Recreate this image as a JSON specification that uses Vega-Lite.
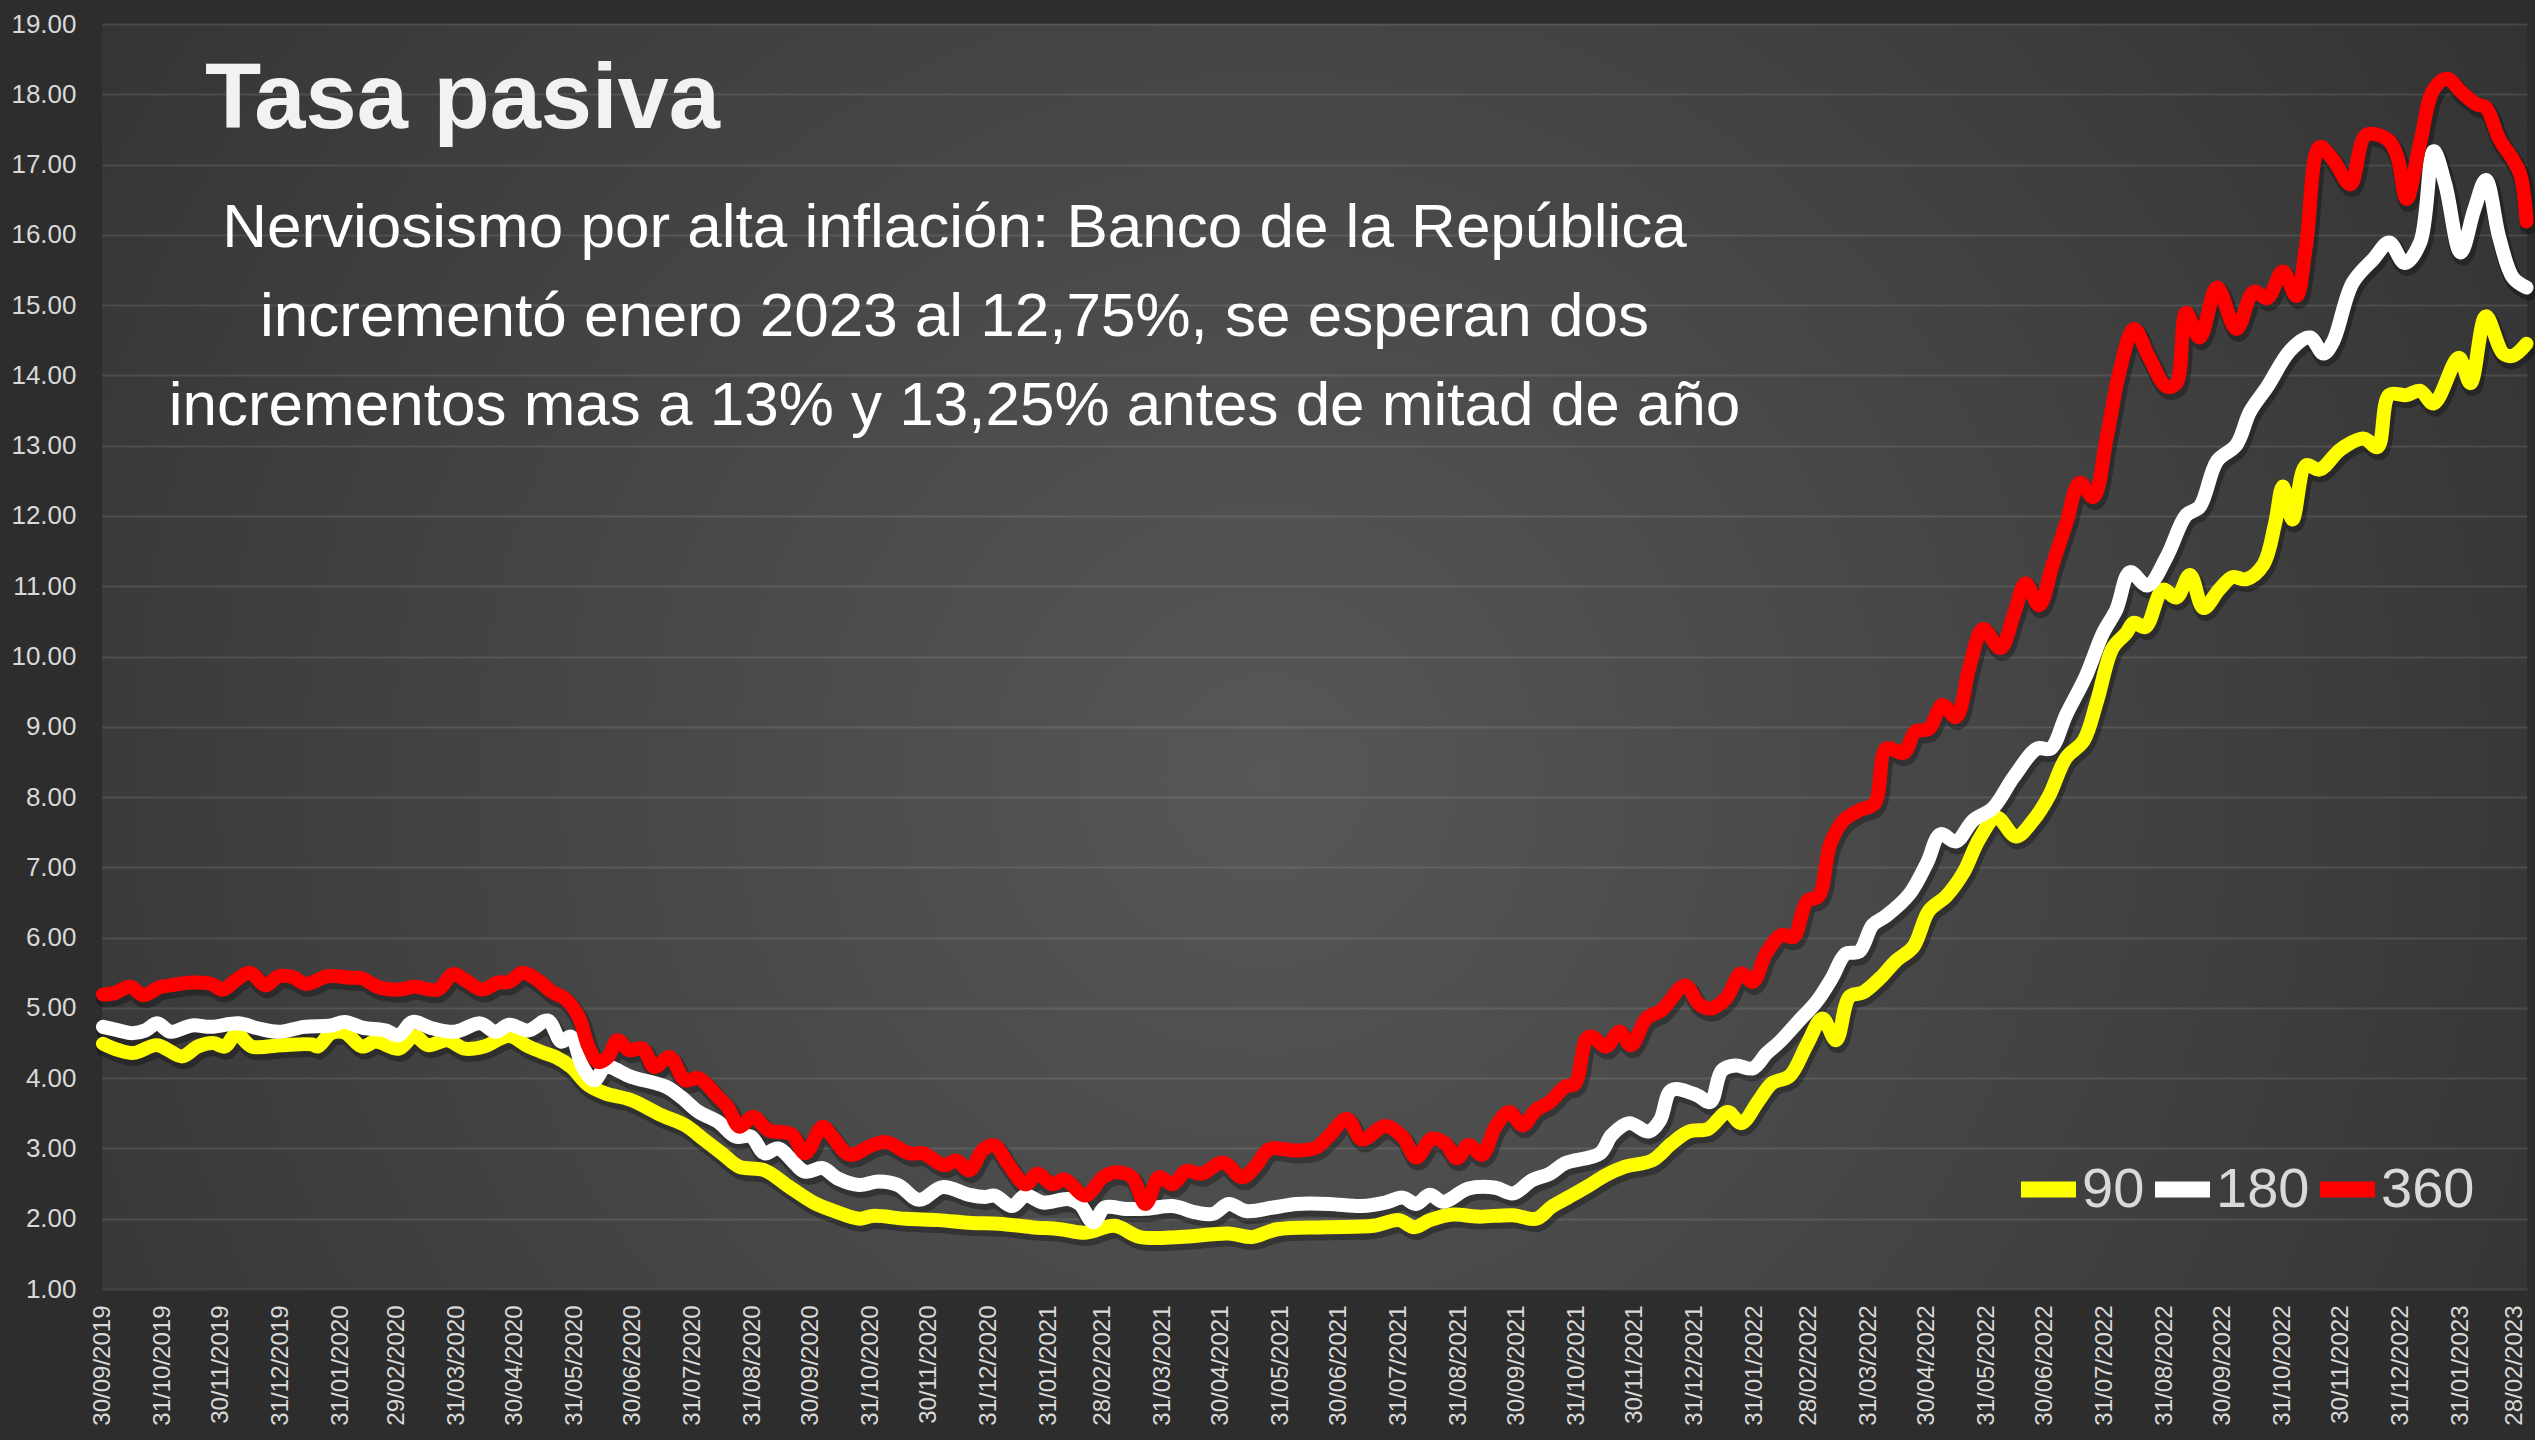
{
"$schema": "https://vega.github.io/schema/vega-lite/v6.json",
"width": 2425,
"height": 1265,
"autosize": {"type": "none"},
"padding": {"left": 102, "top": 24, "right": 8, "bottom": 151},
"background": "#2d2d2d",
"config": {
  "view": {"stroke": null, "fill": {"gradient": "radial", "x1": 0.48, "y1": 0.55, "r1": 0, "x2": 0.48, "y2": 0.55, "r2": 0.75, "stops": [{"offset": 0, "color": "#575757"}, {"offset": 1, "color": "#2a2a2a"}]}},
  "font": "Liberation Sans"
},
"title": {"text": "Tasa pasiva", "anchor": "start", "frame": "group", "orient": "top", "offset": -136, "dx": 103, "font": "Liberation Sans", "fontSize": 92, "fontWeight": "bold", "color": "#f2f2f2"},
"data": {"values": [
{"plazo":"90","fecha":"2019-09-30","tasa":4.49},
{"plazo":"90","fecha":"2019-10-08","tasa":4.40},
{"plazo":"90","fecha":"2019-10-16","tasa":4.36},
{"plazo":"90","fecha":"2019-10-28","tasa":4.47},
{"plazo":"90","fecha":"2019-11-10","tasa":4.31},
{"plazo":"90","fecha":"2019-11-18","tasa":4.45},
{"plazo":"90","fecha":"2019-11-26","tasa":4.50},
{"plazo":"90","fecha":"2019-12-02","tasa":4.45},
{"plazo":"90","fecha":"2019-12-08","tasa":4.63},
{"plazo":"90","fecha":"2019-12-16","tasa":4.45},
{"plazo":"90","fecha":"2019-12-31","tasa":4.47},
{"plazo":"90","fecha":"2020-01-16","tasa":4.48},
{"plazo":"90","fecha":"2020-01-19","tasa":4.45},
{"plazo":"90","fecha":"2020-01-26","tasa":4.64},
{"plazo":"90","fecha":"2020-02-02","tasa":4.65},
{"plazo":"90","fecha":"2020-02-11","tasa":4.45},
{"plazo":"90","fecha":"2020-02-18","tasa":4.52},
{"plazo":"90","fecha":"2020-03-01","tasa":4.42},
{"plazo":"90","fecha":"2020-03-09","tasa":4.60},
{"plazo":"90","fecha":"2020-03-16","tasa":4.47},
{"plazo":"90","fecha":"2020-03-26","tasa":4.54},
{"plazo":"90","fecha":"2020-04-04","tasa":4.42},
{"plazo":"90","fecha":"2020-04-14","tasa":4.45},
{"plazo":"90","fecha":"2020-04-27","tasa":4.60},
{"plazo":"90","fecha":"2020-05-07","tasa":4.45},
{"plazo":"90","fecha":"2020-05-16","tasa":4.35},
{"plazo":"90","fecha":"2020-05-21","tasa":4.30},
{"plazo":"90","fecha":"2020-05-29","tasa":4.16},
{"plazo":"90","fecha":"2020-06-07","tasa":3.90},
{"plazo":"90","fecha":"2020-06-16","tasa":3.78},
{"plazo":"90","fecha":"2020-06-29","tasa":3.69},
{"plazo":"90","fecha":"2020-07-15","tasa":3.47},
{"plazo":"90","fecha":"2020-07-27","tasa":3.33},
{"plazo":"90","fecha":"2020-08-06","tasa":3.12},
{"plazo":"90","fecha":"2020-08-15","tasa":2.93},
{"plazo":"90","fecha":"2020-08-24","tasa":2.74},
{"plazo":"90","fecha":"2020-09-06","tasa":2.69},
{"plazo":"90","fecha":"2020-09-19","tasa":2.45},
{"plazo":"90","fecha":"2020-10-02","tasa":2.22},
{"plazo":"90","fecha":"2020-10-11","tasa":2.12},
{"plazo":"90","fecha":"2020-10-25","tasa":2.00},
{"plazo":"90","fecha":"2020-11-01","tasa":2.04},
{"plazo":"90","fecha":"2020-11-18","tasa":2.00},
{"plazo":"90","fecha":"2020-12-05","tasa":1.98},
{"plazo":"90","fecha":"2020-12-22","tasa":1.94},
{"plazo":"90","fecha":"2021-01-05","tasa":1.93},
{"plazo":"90","fecha":"2021-01-22","tasa":1.88},
{"plazo":"90","fecha":"2021-02-06","tasa":1.85},
{"plazo":"90","fecha":"2021-02-19","tasa":1.80},
{"plazo":"90","fecha":"2021-03-06","tasa":1.90},
{"plazo":"90","fecha":"2021-03-19","tasa":1.74},
{"plazo":"90","fecha":"2021-04-09","tasa":1.74},
{"plazo":"90","fecha":"2021-05-04","tasa":1.79},
{"plazo":"90","fecha":"2021-05-16","tasa":1.74},
{"plazo":"90","fecha":"2021-05-29","tasa":1.85},
{"plazo":"90","fecha":"2021-06-23","tasa":1.88},
{"plazo":"90","fecha":"2021-07-18","tasa":1.90},
{"plazo":"90","fecha":"2021-07-31","tasa":1.98},
{"plazo":"90","fecha":"2021-08-08","tasa":1.88},
{"plazo":"90","fecha":"2021-08-16","tasa":1.98},
{"plazo":"90","fecha":"2021-08-28","tasa":2.06},
{"plazo":"90","fecha":"2021-09-10","tasa":2.03},
{"plazo":"90","fecha":"2021-09-28","tasa":2.05},
{"plazo":"90","fecha":"2021-10-10","tasa":2.00},
{"plazo":"90","fecha":"2021-10-18","tasa":2.17},
{"plazo":"90","fecha":"2021-10-27","tasa":2.31},
{"plazo":"90","fecha":"2021-11-05","tasa":2.45},
{"plazo":"90","fecha":"2021-11-15","tasa":2.62},
{"plazo":"90","fecha":"2021-11-25","tasa":2.74},
{"plazo":"90","fecha":"2021-12-09","tasa":2.83},
{"plazo":"90","fecha":"2021-12-19","tasa":3.07},
{"plazo":"90","fecha":"2021-12-28","tasa":3.24},
{"plazo":"90","fecha":"2022-01-07","tasa":3.28},
{"plazo":"90","fecha":"2022-01-17","tasa":3.52},
{"plazo":"90","fecha":"2022-01-24","tasa":3.36},
{"plazo":"90","fecha":"2022-02-02","tasa":3.68},
{"plazo":"90","fecha":"2022-02-09","tasa":3.93},
{"plazo":"90","fecha":"2022-02-18","tasa":4.03},
{"plazo":"90","fecha":"2022-02-27","tasa":4.48},
{"plazo":"90","fecha":"2022-03-07","tasa":4.85},
{"plazo":"90","fecha":"2022-03-14","tasa":4.54},
{"plazo":"90","fecha":"2022-03-21","tasa":5.16},
{"plazo":"90","fecha":"2022-03-28","tasa":5.22},
{"plazo":"90","fecha":"2022-04-06","tasa":5.43},
{"plazo":"90","fecha":"2022-04-14","tasa":5.67},
{"plazo":"90","fecha":"2022-04-23","tasa":5.87},
{"plazo":"90","fecha":"2022-05-01","tasa":6.38},
{"plazo":"90","fecha":"2022-05-10","tasa":6.59},
{"plazo":"90","fecha":"2022-05-19","tasa":6.93},
{"plazo":"90","fecha":"2022-05-27","tasa":7.40},
{"plazo":"90","fecha":"2022-06-05","tasa":7.71},
{"plazo":"90","fecha":"2022-06-15","tasa":7.44},
{"plazo":"90","fecha":"2022-06-24","tasa":7.67},
{"plazo":"90","fecha":"2022-07-02","tasa":8.01},
{"plazo":"90","fecha":"2022-07-11","tasa":8.56},
{"plazo":"90","fecha":"2022-07-20","tasa":8.80},
{"plazo":"90","fecha":"2022-07-27","tasa":9.37},
{"plazo":"90","fecha":"2022-08-04","tasa":10.12},
{"plazo":"90","fecha":"2022-08-11","tasa":10.33},
{"plazo":"90","fecha":"2022-08-15","tasa":10.48},
{"plazo":"90","fecha":"2022-08-21","tasa":10.42},
{"plazo":"90","fecha":"2022-08-30","tasa":10.95},
{"plazo":"90","fecha":"2022-09-06","tasa":10.84},
{"plazo":"90","fecha":"2022-09-13","tasa":11.16},
{"plazo":"90","fecha":"2022-09-20","tasa":10.69},
{"plazo":"90","fecha":"2022-09-28","tasa":10.95},
{"plazo":"90","fecha":"2022-10-05","tasa":11.13},
{"plazo":"90","fecha":"2022-10-12","tasa":11.10},
{"plazo":"90","fecha":"2022-10-21","tasa":11.31},
{"plazo":"90","fecha":"2022-10-27","tasa":11.89},
{"plazo":"90","fecha":"2022-10-31","tasa":12.42},
{"plazo":"90","fecha":"2022-11-05","tasa":11.95},
{"plazo":"90","fecha":"2022-11-12","tasa":12.72},
{"plazo":"90","fecha":"2022-11-19","tasa":12.66},
{"plazo":"90","fecha":"2022-11-30","tasa":12.95},
{"plazo":"90","fecha":"2022-12-12","tasa":13.10},
{"plazo":"90","fecha":"2022-12-19","tasa":12.98},
{"plazo":"90","fecha":"2022-12-25","tasa":13.72},
{"plazo":"90","fecha":"2023-01-03","tasa":13.72},
{"plazo":"90","fecha":"2023-01-10","tasa":13.78},
{"plazo":"90","fecha":"2023-01-17","tasa":13.60},
{"plazo":"90","fecha":"2023-01-30","tasa":14.25},
{"plazo":"90","fecha":"2023-02-05","tasa":13.89},
{"plazo":"90","fecha":"2023-02-13","tasa":14.84},
{"plazo":"90","fecha":"2023-02-22","tasa":14.31},
{"plazo":"90","fecha":"2023-02-27","tasa":14.28},
{"plazo":"90","fecha":"2023-03-06","tasa":14.45},
{"plazo":"180","fecha":"2019-09-30","tasa":4.73},
{"plazo":"180","fecha":"2019-10-08","tasa":4.68},
{"plazo":"180","fecha":"2019-10-15","tasa":4.64},
{"plazo":"180","fecha":"2019-10-22","tasa":4.68},
{"plazo":"180","fecha":"2019-10-28","tasa":4.78},
{"plazo":"180","fecha":"2019-11-04","tasa":4.66},
{"plazo":"180","fecha":"2019-11-15","tasa":4.75},
{"plazo":"180","fecha":"2019-11-25","tasa":4.73},
{"plazo":"180","fecha":"2019-12-09","tasa":4.78},
{"plazo":"180","fecha":"2019-12-19","tasa":4.71},
{"plazo":"180","fecha":"2019-12-30","tasa":4.66},
{"plazo":"180","fecha":"2020-01-12","tasa":4.73},
{"plazo":"180","fecha":"2020-01-26","tasa":4.75},
{"plazo":"180","fecha":"2020-02-02","tasa":4.80},
{"plazo":"180","fecha":"2020-02-11","tasa":4.72},
{"plazo":"180","fecha":"2020-02-23","tasa":4.68},
{"plazo":"180","fecha":"2020-03-01","tasa":4.61},
{"plazo":"180","fecha":"2020-03-08","tasa":4.80},
{"plazo":"180","fecha":"2020-03-18","tasa":4.71},
{"plazo":"180","fecha":"2020-03-30","tasa":4.66},
{"plazo":"180","fecha":"2020-04-12","tasa":4.78},
{"plazo":"180","fecha":"2020-04-20","tasa":4.66},
{"plazo":"180","fecha":"2020-04-27","tasa":4.76},
{"plazo":"180","fecha":"2020-05-07","tasa":4.68},
{"plazo":"180","fecha":"2020-05-17","tasa":4.82},
{"plazo":"180","fecha":"2020-05-24","tasa":4.52},
{"plazo":"180","fecha":"2020-05-29","tasa":4.59},
{"plazo":"180","fecha":"2020-06-04","tasa":4.16},
{"plazo":"180","fecha":"2020-06-10","tasa":3.97},
{"plazo":"180","fecha":"2020-06-16","tasa":4.16},
{"plazo":"180","fecha":"2020-06-29","tasa":4.02},
{"plazo":"180","fecha":"2020-07-17","tasa":3.88},
{"plazo":"180","fecha":"2020-07-25","tasa":3.73},
{"plazo":"180","fecha":"2020-08-03","tasa":3.52},
{"plazo":"180","fecha":"2020-08-13","tasa":3.38},
{"plazo":"180","fecha":"2020-08-22","tasa":3.17},
{"plazo":"180","fecha":"2020-08-30","tasa":3.17},
{"plazo":"180","fecha":"2020-09-06","tasa":2.93},
{"plazo":"180","fecha":"2020-09-13","tasa":3.00},
{"plazo":"180","fecha":"2020-09-27","tasa":2.67},
{"plazo":"180","fecha":"2020-10-06","tasa":2.72},
{"plazo":"180","fecha":"2020-10-14","tasa":2.57},
{"plazo":"180","fecha":"2020-10-25","tasa":2.48},
{"plazo":"180","fecha":"2020-11-04","tasa":2.53},
{"plazo":"180","fecha":"2020-11-14","tasa":2.48},
{"plazo":"180","fecha":"2020-11-25","tasa":2.27},
{"plazo":"180","fecha":"2020-12-07","tasa":2.45},
{"plazo":"180","fecha":"2020-12-21","tasa":2.34},
{"plazo":"180","fecha":"2020-12-29","tasa":2.31},
{"plazo":"180","fecha":"2021-01-03","tasa":2.33},
{"plazo":"180","fecha":"2021-01-12","tasa":2.18},
{"plazo":"180","fecha":"2021-01-19","tasa":2.33},
{"plazo":"180","fecha":"2021-01-28","tasa":2.23},
{"plazo":"180","fecha":"2021-02-10","tasa":2.28},
{"plazo":"180","fecha":"2021-02-16","tasa":2.21},
{"plazo":"180","fecha":"2021-02-23","tasa":1.95},
{"plazo":"180","fecha":"2021-03-01","tasa":2.16},
{"plazo":"180","fecha":"2021-03-12","tasa":2.14},
{"plazo":"180","fecha":"2021-03-22","tasa":2.14},
{"plazo":"180","fecha":"2021-04-05","tasa":2.18},
{"plazo":"180","fecha":"2021-04-17","tasa":2.09},
{"plazo":"180","fecha":"2021-04-26","tasa":2.07},
{"plazo":"180","fecha":"2021-05-04","tasa":2.21},
{"plazo":"180","fecha":"2021-05-13","tasa":2.11},
{"plazo":"180","fecha":"2021-05-27","tasa":2.16},
{"plazo":"180","fecha":"2021-06-08","tasa":2.21},
{"plazo":"180","fecha":"2021-06-25","tasa":2.21},
{"plazo":"180","fecha":"2021-07-12","tasa":2.18},
{"plazo":"180","fecha":"2021-07-24","tasa":2.23},
{"plazo":"180","fecha":"2021-08-02","tasa":2.30},
{"plazo":"180","fecha":"2021-08-09","tasa":2.21},
{"plazo":"180","fecha":"2021-08-16","tasa":2.34},
{"plazo":"180","fecha":"2021-08-23","tasa":2.24},
{"plazo":"180","fecha":"2021-09-05","tasa":2.43},
{"plazo":"180","fecha":"2021-09-19","tasa":2.44},
{"plazo":"180","fecha":"2021-09-28","tasa":2.36},
{"plazo":"180","fecha":"2021-10-08","tasa":2.55},
{"plazo":"180","fecha":"2021-10-17","tasa":2.64},
{"plazo":"180","fecha":"2021-10-25","tasa":2.79},
{"plazo":"180","fecha":"2021-11-12","tasa":2.93},
{"plazo":"180","fecha":"2021-11-18","tasa":3.19},
{"plazo":"180","fecha":"2021-11-27","tasa":3.36},
{"plazo":"180","fecha":"2021-12-07","tasa":3.24},
{"plazo":"180","fecha":"2021-12-13","tasa":3.40},
{"plazo":"180","fecha":"2021-12-19","tasa":3.83},
{"plazo":"180","fecha":"2022-01-01","tasa":3.76},
{"plazo":"180","fecha":"2022-01-08","tasa":3.66},
{"plazo":"180","fecha":"2022-01-14","tasa":4.11},
{"plazo":"180","fecha":"2022-01-21","tasa":4.18},
{"plazo":"180","fecha":"2022-01-30","tasa":4.14},
{"plazo":"180","fecha":"2022-02-06","tasa":4.35},
{"plazo":"180","fecha":"2022-02-13","tasa":4.52},
{"plazo":"180","fecha":"2022-02-23","tasa":4.82},
{"plazo":"180","fecha":"2022-03-04","tasa":5.09},
{"plazo":"180","fecha":"2022-03-12","tasa":5.43},
{"plazo":"180","fecha":"2022-03-19","tasa":5.77},
{"plazo":"180","fecha":"2022-03-26","tasa":5.80},
{"plazo":"180","fecha":"2022-04-02","tasa":6.18},
{"plazo":"180","fecha":"2022-04-09","tasa":6.31},
{"plazo":"180","fecha":"2022-04-21","tasa":6.62},
{"plazo":"180","fecha":"2022-04-30","tasa":7.06},
{"plazo":"180","fecha":"2022-05-07","tasa":7.47},
{"plazo":"180","fecha":"2022-05-15","tasa":7.37},
{"plazo":"180","fecha":"2022-05-24","tasa":7.67},
{"plazo":"180","fecha":"2022-06-03","tasa":7.84},
{"plazo":"180","fecha":"2022-06-14","tasa":8.29},
{"plazo":"180","fecha":"2022-06-26","tasa":8.69},
{"plazo":"180","fecha":"2022-07-03","tasa":8.69},
{"plazo":"180","fecha":"2022-07-11","tasa":9.17},
{"plazo":"180","fecha":"2022-07-21","tasa":9.71},
{"plazo":"180","fecha":"2022-07-30","tasa":10.33},
{"plazo":"180","fecha":"2022-08-06","tasa":10.67},
{"plazo":"180","fecha":"2022-08-13","tasa":11.20},
{"plazo":"180","fecha":"2022-08-22","tasa":11.01},
{"plazo":"180","fecha":"2022-09-01","tasa":11.42},
{"plazo":"180","fecha":"2022-09-11","tasa":12.01},
{"plazo":"180","fecha":"2022-09-18","tasa":12.13},
{"plazo":"180","fecha":"2022-09-27","tasa":12.78},
{"plazo":"180","fecha":"2022-10-07","tasa":13.01},
{"plazo":"180","fecha":"2022-10-14","tasa":13.48},
{"plazo":"180","fecha":"2022-10-23","tasa":13.84},
{"plazo":"180","fecha":"2022-11-04","tasa":14.36},
{"plazo":"180","fecha":"2022-11-14","tasa":14.54},
{"plazo":"180","fecha":"2022-11-21","tasa":14.31},
{"plazo":"180","fecha":"2022-11-26","tasa":14.48},
{"plazo":"180","fecha":"2022-12-06","tasa":15.31},
{"plazo":"180","fecha":"2022-12-17","tasa":15.66},
{"plazo":"180","fecha":"2022-12-25","tasa":15.89},
{"plazo":"180","fecha":"2023-01-02","tasa":15.60},
{"plazo":"180","fecha":"2023-01-10","tasa":15.89},
{"plazo":"180","fecha":"2023-01-17","tasa":17.19},
{"plazo":"180","fecha":"2023-01-23","tasa":16.72},
{"plazo":"180","fecha":"2023-01-31","tasa":15.75},
{"plazo":"180","fecha":"2023-02-07","tasa":16.36},
{"plazo":"180","fecha":"2023-02-13","tasa":16.78},
{"plazo":"180","fecha":"2023-02-20","tasa":15.95},
{"plazo":"180","fecha":"2023-02-27","tasa":15.39},
{"plazo":"180","fecha":"2023-03-06","tasa":15.25},
{"plazo":"360","fecha":"2019-09-30","tasa":5.19},
{"plazo":"360","fecha":"2019-10-06","tasa":5.21},
{"plazo":"360","fecha":"2019-10-14","tasa":5.30},
{"plazo":"360","fecha":"2019-10-21","tasa":5.18},
{"plazo":"360","fecha":"2019-10-29","tasa":5.29},
{"plazo":"360","fecha":"2019-11-04","tasa":5.32},
{"plazo":"360","fecha":"2019-11-15","tasa":5.36},
{"plazo":"360","fecha":"2019-11-25","tasa":5.34},
{"plazo":"360","fecha":"2019-12-01","tasa":5.26},
{"plazo":"360","fecha":"2019-12-08","tasa":5.40},
{"plazo":"360","fecha":"2019-12-15","tasa":5.50},
{"plazo":"360","fecha":"2019-12-23","tasa":5.32},
{"plazo":"360","fecha":"2019-12-30","tasa":5.45},
{"plazo":"360","fecha":"2020-01-06","tasa":5.44},
{"plazo":"360","fecha":"2020-01-13","tasa":5.34},
{"plazo":"360","fecha":"2020-01-24","tasa":5.45},
{"plazo":"360","fecha":"2020-02-05","tasa":5.43},
{"plazo":"360","fecha":"2020-02-11","tasa":5.42},
{"plazo":"360","fecha":"2020-02-19","tasa":5.30},
{"plazo":"360","fecha":"2020-03-01","tasa":5.26},
{"plazo":"360","fecha":"2020-03-09","tasa":5.30},
{"plazo":"360","fecha":"2020-03-21","tasa":5.26},
{"plazo":"360","fecha":"2020-03-29","tasa":5.48},
{"plazo":"360","fecha":"2020-04-04","tasa":5.40},
{"plazo":"360","fecha":"2020-04-13","tasa":5.26},
{"plazo":"360","fecha":"2020-04-21","tasa":5.36},
{"plazo":"360","fecha":"2020-04-27","tasa":5.37},
{"plazo":"360","fecha":"2020-05-04","tasa":5.50},
{"plazo":"360","fecha":"2020-05-12","tasa":5.39},
{"plazo":"360","fecha":"2020-05-19","tasa":5.23},
{"plazo":"360","fecha":"2020-05-26","tasa":5.13},
{"plazo":"360","fecha":"2020-06-02","tasa":4.87},
{"plazo":"360","fecha":"2020-06-07","tasa":4.45},
{"plazo":"360","fecha":"2020-06-12","tasa":4.23},
{"plazo":"360","fecha":"2020-06-17","tasa":4.30},
{"plazo":"360","fecha":"2020-06-22","tasa":4.54},
{"plazo":"360","fecha":"2020-06-28","tasa":4.40},
{"plazo":"360","fecha":"2020-07-05","tasa":4.42},
{"plazo":"360","fecha":"2020-07-11","tasa":4.16},
{"plazo":"360","fecha":"2020-07-19","tasa":4.30},
{"plazo":"360","fecha":"2020-07-27","tasa":3.97},
{"plazo":"360","fecha":"2020-08-03","tasa":4.00},
{"plazo":"360","fecha":"2020-08-13","tasa":3.73},
{"plazo":"360","fecha":"2020-08-18","tasa":3.59},
{"plazo":"360","fecha":"2020-08-24","tasa":3.31},
{"plazo":"360","fecha":"2020-08-31","tasa":3.45},
{"plazo":"360","fecha":"2020-09-08","tasa":3.26},
{"plazo":"360","fecha":"2020-09-20","tasa":3.20},
{"plazo":"360","fecha":"2020-09-27","tasa":2.93},
{"plazo":"360","fecha":"2020-10-06","tasa":3.31},
{"plazo":"360","fecha":"2020-10-11","tasa":3.17},
{"plazo":"360","fecha":"2020-10-20","tasa":2.91},
{"plazo":"360","fecha":"2020-11-01","tasa":3.05},
{"plazo":"360","fecha":"2020-11-08","tasa":3.09},
{"plazo":"360","fecha":"2020-11-20","tasa":2.93},
{"plazo":"360","fecha":"2020-11-27","tasa":2.93},
{"plazo":"360","fecha":"2020-12-08","tasa":2.76},
{"plazo":"360","fecha":"2020-12-14","tasa":2.83},
{"plazo":"360","fecha":"2020-12-21","tasa":2.69},
{"plazo":"360","fecha":"2020-12-28","tasa":2.98},
{"plazo":"360","fecha":"2021-01-03","tasa":3.04},
{"plazo":"360","fecha":"2021-01-10","tasa":2.78},
{"plazo":"360","fecha":"2021-01-19","tasa":2.49},
{"plazo":"360","fecha":"2021-01-25","tasa":2.64},
{"plazo":"360","fecha":"2021-02-02","tasa":2.49},
{"plazo":"360","fecha":"2021-02-08","tasa":2.56},
{"plazo":"360","fecha":"2021-02-19","tasa":2.33},
{"plazo":"360","fecha":"2021-02-28","tasa":2.59},
{"plazo":"360","fecha":"2021-03-07","tasa":2.66},
{"plazo":"360","fecha":"2021-03-15","tasa":2.59},
{"plazo":"360","fecha":"2021-03-22","tasa":2.21},
{"plazo":"360","fecha":"2021-03-29","tasa":2.59},
{"plazo":"360","fecha":"2021-04-05","tasa":2.49},
{"plazo":"360","fecha":"2021-04-12","tasa":2.68},
{"plazo":"360","fecha":"2021-04-20","tasa":2.64},
{"plazo":"360","fecha":"2021-05-01","tasa":2.80},
{"plazo":"360","fecha":"2021-05-11","tasa":2.59},
{"plazo":"360","fecha":"2021-05-18","tasa":2.75},
{"plazo":"360","fecha":"2021-05-25","tasa":2.99},
{"plazo":"360","fecha":"2021-06-08","tasa":2.97},
{"plazo":"360","fecha":"2021-06-18","tasa":3.01},
{"plazo":"360","fecha":"2021-06-25","tasa":3.18},
{"plazo":"360","fecha":"2021-07-04","tasa":3.42},
{"plazo":"360","fecha":"2021-07-12","tasa":3.13},
{"plazo":"360","fecha":"2021-07-24","tasa":3.32},
{"plazo":"360","fecha":"2021-08-02","tasa":3.16},
{"plazo":"360","fecha":"2021-08-09","tasa":2.87},
{"plazo":"360","fecha":"2021-08-17","tasa":3.14},
{"plazo":"360","fecha":"2021-08-24","tasa":3.07},
{"plazo":"360","fecha":"2021-08-30","tasa":2.86},
{"plazo":"360","fecha":"2021-09-05","tasa":3.05},
{"plazo":"360","fecha":"2021-09-12","tasa":2.91},
{"plazo":"360","fecha":"2021-09-19","tasa":3.31},
{"plazo":"360","fecha":"2021-09-26","tasa":3.52},
{"plazo":"360","fecha":"2021-10-03","tasa":3.33},
{"plazo":"360","fecha":"2021-10-10","tasa":3.55},
{"plazo":"360","fecha":"2021-10-17","tasa":3.66},
{"plazo":"360","fecha":"2021-10-25","tasa":3.88},
{"plazo":"360","fecha":"2021-10-30","tasa":3.92},
{"plazo":"360","fecha":"2021-11-05","tasa":4.56},
{"plazo":"360","fecha":"2021-11-08","tasa":4.59},
{"plazo":"360","fecha":"2021-11-15","tasa":4.45},
{"plazo":"360","fecha":"2021-11-22","tasa":4.66},
{"plazo":"360","fecha":"2021-11-28","tasa":4.47},
{"plazo":"360","fecha":"2021-12-06","tasa":4.85},
{"plazo":"360","fecha":"2021-12-14","tasa":4.97},
{"plazo":"360","fecha":"2021-12-26","tasa":5.32},
{"plazo":"360","fecha":"2022-01-02","tasa":5.06},
{"plazo":"360","fecha":"2022-01-08","tasa":4.99},
{"plazo":"360","fecha":"2022-01-16","tasa":5.13},
{"plazo":"360","fecha":"2022-01-24","tasa":5.49},
{"plazo":"360","fecha":"2022-01-30","tasa":5.37},
{"plazo":"360","fecha":"2022-02-06","tasa":5.78},
{"plazo":"360","fecha":"2022-02-14","tasa":6.04},
{"plazo":"360","fecha":"2022-02-20","tasa":6.01},
{"plazo":"360","fecha":"2022-02-27","tasa":6.52},
{"plazo":"360","fecha":"2022-03-05","tasa":6.59},
{"plazo":"360","fecha":"2022-03-11","tasa":7.33},
{"plazo":"360","fecha":"2022-03-18","tasa":7.67},
{"plazo":"360","fecha":"2022-03-26","tasa":7.81},
{"plazo":"360","fecha":"2022-04-03","tasa":7.91},
{"plazo":"360","fecha":"2022-04-09","tasa":8.69},
{"plazo":"360","fecha":"2022-04-18","tasa":8.63},
{"plazo":"360","fecha":"2022-04-24","tasa":8.93},
{"plazo":"360","fecha":"2022-05-01","tasa":8.97},
{"plazo":"360","fecha":"2022-05-08","tasa":9.31},
{"plazo":"360","fecha":"2022-05-15","tasa":9.14},
{"plazo":"360","fecha":"2022-05-22","tasa":9.85},
{"plazo":"360","fecha":"2022-05-29","tasa":10.39},
{"plazo":"360","fecha":"2022-06-07","tasa":10.12},
{"plazo":"360","fecha":"2022-06-14","tasa":10.60},
{"plazo":"360","fecha":"2022-06-20","tasa":11.04},
{"plazo":"360","fecha":"2022-06-27","tasa":10.73},
{"plazo":"360","fecha":"2022-07-04","tasa":11.31},
{"plazo":"360","fecha":"2022-07-11","tasa":11.89},
{"plazo":"360","fecha":"2022-07-18","tasa":12.47},
{"plazo":"360","fecha":"2022-07-25","tasa":12.27},
{"plazo":"360","fecha":"2022-08-01","tasa":13.12},
{"plazo":"360","fecha":"2022-08-08","tasa":14.10},
{"plazo":"360","fecha":"2022-08-15","tasa":14.66},
{"plazo":"360","fecha":"2022-08-23","tasa":14.25},
{"plazo":"360","fecha":"2022-09-01","tasa":13.84},
{"plazo":"360","fecha":"2022-09-06","tasa":13.89},
{"plazo":"360","fecha":"2022-09-11","tasa":14.89},
{"plazo":"360","fecha":"2022-09-18","tasa":14.54},
{"plazo":"360","fecha":"2022-09-27","tasa":15.25},
{"plazo":"360","fecha":"2022-10-07","tasa":14.66},
{"plazo":"360","fecha":"2022-10-16","tasa":15.19},
{"plazo":"360","fecha":"2022-10-23","tasa":15.10},
{"plazo":"360","fecha":"2022-10-31","tasa":15.48},
{"plazo":"360","fecha":"2022-11-07","tasa":15.13},
{"plazo":"360","fecha":"2022-11-12","tasa":15.84},
{"plazo":"360","fecha":"2022-11-19","tasa":17.25},
{"plazo":"360","fecha":"2022-11-26","tasa":17.07},
{"plazo":"360","fecha":"2022-12-05","tasa":16.72},
{"plazo":"360","fecha":"2022-12-13","tasa":17.42},
{"plazo":"360","fecha":"2022-12-24","tasa":17.36},
{"plazo":"360","fecha":"2022-12-29","tasa":17.13},
{"plazo":"360","fecha":"2023-01-03","tasa":16.51},
{"plazo":"360","fecha":"2023-01-10","tasa":17.31},
{"plazo":"360","fecha":"2023-01-17","tasa":18.07},
{"plazo":"360","fecha":"2023-01-24","tasa":18.22},
{"plazo":"360","fecha":"2023-01-31","tasa":18.04},
{"plazo":"360","fecha":"2023-02-08","tasa":17.86},
{"plazo":"360","fecha":"2023-02-13","tasa":17.81},
{"plazo":"360","fecha":"2023-02-20","tasa":17.36},
{"plazo":"360","fecha":"2023-02-27","tasa":17.07},
{"plazo":"360","fecha":"2023-03-03","tasa":16.84},
{"plazo":"360","fecha":"2023-03-06","tasa":16.19}
]},
"encoding": {
  "x": {"field": "fecha", "type": "temporal",
    "scale": {"type": "utc", "domain": [{"year": 2019, "month": 9, "date": 29, "hours": 12, "utc": true}, {"year": 2023, "month": 3, "date": 6, "hours": 6, "utc": true}]},
    "axis": {"labelExpr": "utcFormat(datum.value, '%d/%m/%Y')", "labelAngle": -90, "labelFontSize": 24, "labelColor": "#d9d9d9", "labelPadding": 16, "grid": false, "domain": false, "ticks": false, "labelOverlap": false, "labelFlush": false, "labelBound": false,
      "title": ["Nerviosismo por alta inflación: Banco de la República", "incrementó enero 2023 al 12,75%, se esperan dos", "incrementos mas a 13% y 13,25% antes de mitad de año"],
      "titleX": 852, "titleY": -1043, "titleAngle": 0, "titleAlign": "center", "titleBaseline": "alphabetic", "titleFont": "Liberation Sans", "titleFontSize": 62, "titleFontWeight": "normal", "titleColor": "#ffffff", "titleLineHeight": 89,
      "values": [
        {"year":2019,"month":9,"date":30,"utc":true},{"year":2019,"month":10,"date":31,"utc":true},{"year":2019,"month":11,"date":30,"utc":true},{"year":2019,"month":12,"date":31,"utc":true},
        {"year":2020,"month":1,"date":31,"utc":true},{"year":2020,"month":2,"date":29,"utc":true},{"year":2020,"month":3,"date":31,"utc":true},{"year":2020,"month":4,"date":30,"utc":true},{"year":2020,"month":5,"date":31,"utc":true},{"year":2020,"month":6,"date":30,"utc":true},{"year":2020,"month":7,"date":31,"utc":true},{"year":2020,"month":8,"date":31,"utc":true},{"year":2020,"month":9,"date":30,"utc":true},{"year":2020,"month":10,"date":31,"utc":true},{"year":2020,"month":11,"date":30,"utc":true},{"year":2020,"month":12,"date":31,"utc":true},
        {"year":2021,"month":1,"date":31,"utc":true},{"year":2021,"month":2,"date":28,"utc":true},{"year":2021,"month":3,"date":31,"utc":true},{"year":2021,"month":4,"date":30,"utc":true},{"year":2021,"month":5,"date":31,"utc":true},{"year":2021,"month":6,"date":30,"utc":true},{"year":2021,"month":7,"date":31,"utc":true},{"year":2021,"month":8,"date":31,"utc":true},{"year":2021,"month":9,"date":30,"utc":true},{"year":2021,"month":10,"date":31,"utc":true},{"year":2021,"month":11,"date":30,"utc":true},{"year":2021,"month":12,"date":31,"utc":true},
        {"year":2022,"month":1,"date":31,"utc":true},{"year":2022,"month":2,"date":28,"utc":true},{"year":2022,"month":3,"date":31,"utc":true},{"year":2022,"month":4,"date":30,"utc":true},{"year":2022,"month":5,"date":31,"utc":true},{"year":2022,"month":6,"date":30,"utc":true},{"year":2022,"month":7,"date":31,"utc":true},{"year":2022,"month":8,"date":31,"utc":true},{"year":2022,"month":9,"date":30,"utc":true},{"year":2022,"month":10,"date":31,"utc":true},{"year":2022,"month":11,"date":30,"utc":true},{"year":2022,"month":12,"date":31,"utc":true},
        {"year":2023,"month":1,"date":31,"utc":true},{"year":2023,"month":2,"date":28,"utc":true}
      ]}},
  "y": {"field": "tasa", "type": "quantitative",
    "scale": {"domain": [1, 19], "nice": false, "zero": false},
    "axis": {"title": null, "values": [1,2,3,4,5,6,7,8,9,10,11,12,13,14,15,16,17,18,19], "format": ".2f", "labelFontSize": 26, "labelColor": "#d9d9d9", "labelPadding": 26, "domain": false, "ticks": false, "gridColor": "#ffffff", "gridOpacity": 0.1, "gridWidth": 2}}
},
"layer": [
  {"mark": {"type": "line", "interpolate": "catmull-rom", "strokeWidth": 18, "color": "#000000", "opacity": 0.3, "xOffset": 2, "yOffset": 4, "strokeCap": "round", "strokeJoin": "round"},
   "encoding": {"detail": {"field": "plazo", "type": "nominal"}}},
  {"mark": {"type": "line", "interpolate": "catmull-rom", "strokeWidth": 14, "strokeCap": "round", "strokeJoin": "round"},
   "encoding": {"color": {"field": "plazo", "type": "nominal",
     "scale": {"domain": ["90", "180", "360"], "range": ["#ffff00", "#ffffff", "#ff0000"]},
     "legend": {"orient": "none", "legendX": 1911, "legendY": 1130, "direction": "horizontal", "gridAlign": "none", "title": null, "symbolType": "stroke", "symbolSize": 3025, "symbolStrokeWidth": 16, "labelFontSize": 56, "labelColor": "#d9d9d9", "labelFont": "Liberation Sans", "columnPadding": -22, "labelOffset": -2, "padding": 0}}}}
]
}
